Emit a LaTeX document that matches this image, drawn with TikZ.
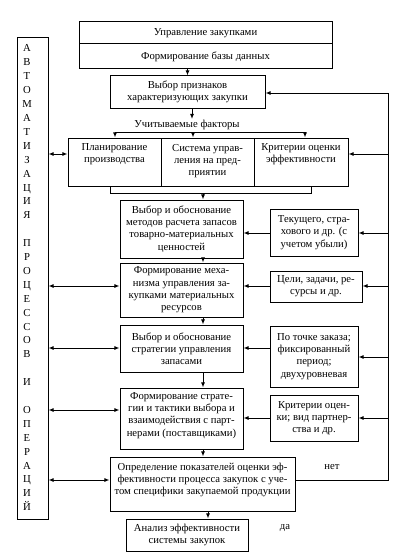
\documentclass[tikz,border=0pt]{standalone}
\usepackage{fontspec}
\setmainfont{Liberation Serif}
\usetikzlibrary{arrows.meta}
\newcommand\fs{\fontsize{8}{9.2}\selectfont}
\tikzset{
  box/.style={draw, line width=0.75pt, inner sep=0pt, align=center, font=\fs},
  txt/.style={inner sep=0pt, align=center, font=\fs},
  ln/.style={line width=0.75pt},
  arr/.style={ln, -{Latex[length=3.8pt,width=3pt]}},
  darr/.style={ln, {Latex[length=3.8pt,width=3pt]}-{Latex[length=3.8pt,width=3pt]}},
}
\newcommand\bx[6]{\node[box, minimum width={(#4-#2)*0.75pt}, minimum height={(#5-#3)*0.75pt}] (#1) at ({(#2+#4)/2},{(#3+#5)/2}) {#6};}
\begin{document}
\begin{tikzpicture}[x=0.75pt,y=-0.75pt]
\useasboundingbox (0,0) rectangle (420,560);
% top box
\bx{top1}{79}{22}{332}{44}{Управление закупками}
\bx{top2}{79}{44}{332}{69}{Формирование базы данных}
% left tall box
\bx{left}{17}{38}{48}{519}{}
\foreach \l [count=\i from 0] in {А,В,Т,О,М,А,Т,И,З,А,Ц,И,Я,,П,Р,О,Ц,Е,С,С,О,В,,И,,О,П,Е,Р,А,Ц,И,Й}
  \node[txt, anchor=base] (L\i) at (27,{52+\i*13.9}) {\l};
% selection box
\bx{vyb}{110}{76}{265}{108}{Выбор признаков\\характеризующих закупки}
\node[txt] (uf) at (187,125) {Учитываемые факторы};
% factors
\bx{f1}{68}{138}{161}{186}{}
\bx{f2}{161}{138}{254}{186}{}
\bx{f3}{254}{138}{348}{186}{}
\node[txt] (t1) at (114.5,154.5) {Планирование\\производства};
\node[txt] (t2) at (207.5,161) {Система управ-\\ления на пред-\\приятии};
\node[txt] (t3) at (301,154.5) {Критерии оценки\\эффективности};
% main column
\bx{m1}{120}{200}{243}{258}{Выбор и обоснование\\методов расчета запасов\\товарно-материальных\\ценностей}
\bx{r1}{270}{209}{358}{256}{Текущего, стра-\\хового и др. (с\\учетом убыли)}
\bx{m2}{120}{263}{243}{317}{Формирование меха-\\низма управления за-\\купками материальных\\ресурсов}
\bx{r2}{270}{271}{362}{302}{Цели, задачи, ре-\\сурсы и др.}
\bx{m3}{120}{325}{243}{372}{Выбор и обоснование\\стратегии управления\\запасами}
\bx{r3}{270}{326}{358}{387}{По точке заказа;\\фиксированный\\период;\\двухуровневая}
\bx{m4}{120}{388}{243}{449}{}
\node[txt] (t4) at (181.5,415.5) {Формирование страте-\\гии и тактики выбора и\\взаимодействия с парт-\\нерами (поставщиками)};
\bx{r4}{270}{395}{358}{441}{Критерии оцен-\\ки; вид партнер-\\ства и др.}
\bx{m5}{110}{457}{295}{511}{}
\node[txt] (t5) at (202.5,480) {Определение показателей оценки эф-\\фективности процесса закупок с уче-\\том специфики закупаемой продукции};
\bx{m6}{126}{519}{248}{551}{Анализ эффективности\\системы закупок}
\node[txt] (net) at (332,467) {нет};
\node[txt] (da) at (285,528) {да};
% helper coordinates
\coordinate (ax) at (203,0);
\coordinate (ax2) at (208,0);
\coordinate (fk) at (192,119);
\coordinate (bl) at (115,132);
\coordinate (bm) at (193,132);
\coordinate (br) at (305,132);
\coordinate (bkl) at (110,193);
\coordinate (bkr) at (311,193);
\coordinate (rt) at (388,93);
\coordinate (rb) at (388,480);
\coordinate (y154) at (0,154);
\coordinate (y233) at (0,233);
\coordinate (y286) at (0,286);
\coordinate (y348) at (0,348);
\coordinate (y357) at (0,357);
\coordinate (y410) at (0,410);
\coordinate (y418) at (0,418);
% connectors
\draw[arr] (vyb.north |- top2.south) -- (vyb.north);
\draw[arr] (vyb.south -| fk) -- (fk);
\draw[ln] (bl) -- (br);
\draw[arr] (bl) -- (bl |- f1.north);
\draw[arr] (bm) -- (bm |- f2.north);
\draw[arr] (br) -- (br |- f3.north);
\draw[ln] (bkl |- f1.south) -- (bkl) -- (bkr) -- (bkr |- f3.south);
\draw[arr] (ax |- bkl) -- (ax |- m1.north);
\draw[arr] (ax |- m1.south) -- (ax |- m2.north);
\draw[arr] (ax |- m2.south) -- (ax |- m3.north);
\draw[arr] (ax |- m3.south) -- (ax |- m4.north);
\draw[arr] (ax |- m4.south) -- (ax |- m5.north);
\draw[arr] (ax2 |- m5.south) -- (ax2 |- m6.north);
% right feedback line
\draw[ln] (m5.east |- rb) -- (rb) -- (rt);
\draw[arr] (rt) -- (rt -| vyb.east);
\draw[arr] (rt |- y154) -- (f3.east |- y154);
\draw[arr] (rt |- y233) -- (r1.east |- y233);
\draw[arr] (rt |- y286) -- (r2.east |- y286);
\draw[arr] (rt |- y357) -- (r3.east |- y357);
\draw[arr] (rt |- y418) -- (r4.east |- y418);
% side boxes to main
\draw[arr] (r1.west |- y233) -- (m1.east |- y233);
\draw[arr] (r2.west |- y286) -- (m2.east |- y286);
\draw[arr] (r3.west |- y348) -- (m3.east |- y348);
\draw[arr] (r4.west |- y418) -- (m4.east |- y418);
% double arrows to left box
\draw[darr] (left.east |- y154) -- (f1.west |- y154);
\draw[darr] (left.east |- y286) -- (m2.west |- y286);
\draw[darr] (left.east |- y348) -- (m3.west |- y348);
\draw[darr] (left.east |- y410) -- (m4.west |- y410);
\draw[darr] (left.east |- rb) -- (m5.west |- rb);
\end{tikzpicture}
\end{document}
